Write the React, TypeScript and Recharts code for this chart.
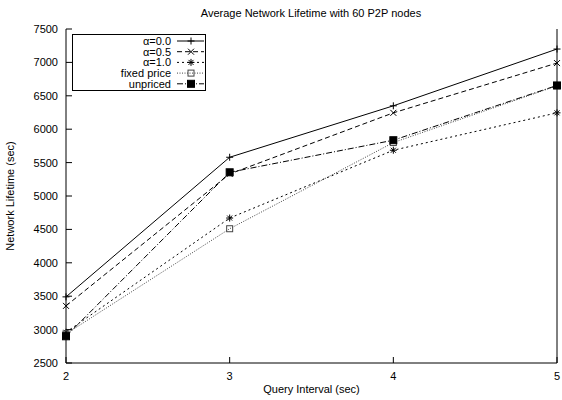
import React from 'react';
import { LineChart, Line, XAxis, YAxis } from 'recharts';

const intervals = [2, 3, 4, 5];
const alpha00 = [3490, 5580, 6350, 7200];
const alpha05 = [3355, 5330, 6245, 6990];
const alpha10 = [2960, 4670, 5685, 6245];
const fixedPrice = [2935, 4510, 5800, 6650];
const unpriced = [2900, 5355, 5835, 6655];
const yTicks = [2500, 3000, 3500, 4000, 4500, 5000, 5500, 6000, 6500, 7000, 7500];
const xTicks = [2, 3, 4, 5];

const title = 'Average Network Lifetime with 60 P2P nodes';
const xLabel = 'Query Interval (sec)';
const yLabel = 'Network Lifetime (sec)';

const seriesNames = ['\u03b1=0.0', '\u03b1=0.5', '\u03b1=1.0', 'fixed price', 'unpriced'];

const data = intervals.map((x, i) => ({
  x,
  a00: alpha00[i],
  a05: alpha05[i],
  a10: alpha10[i],
  fixed: fixedPrice[i],
  unpriced: unpriced[i],
}));

const FONT = '"Liberation Sans", Arial, Helvetica, sans-serif';
const FS = 11;

type MarkerKind = 'plus' | 'cross' | 'star' | 'osq' | 'fsq';

const Marker = ({ kind, cx, cy, color }: { kind: MarkerKind; cx: number; cy: number; color: string }) => {
  const s = 3.5;
  if (kind === 'plus')
    return (
      <g stroke={color} strokeWidth={1}>
        <line x1={cx - s} y1={cy} x2={cx + s} y2={cy} />
        <line x1={cx} y1={cy - s} x2={cx} y2={cy + s} />
      </g>
    );
  if (kind === 'cross')
    return (
      <g stroke={color} strokeWidth={1}>
        <line x1={cx - 3} y1={cy - 3} x2={cx + 3} y2={cy + 3} />
        <line x1={cx - 3} y1={cy + 3} x2={cx + 3} y2={cy - 3} />
      </g>
    );
  if (kind === 'star')
    return (
      <g stroke={color} strokeWidth={1}>
        <line x1={cx - s} y1={cy} x2={cx + s} y2={cy} />
        <line x1={cx} y1={cy - s} x2={cx} y2={cy + s} />
        <line x1={cx - 2.5} y1={cy - 2.5} x2={cx + 2.5} y2={cy + 2.5} />
        <line x1={cx - 2.5} y1={cy + 2.5} x2={cx + 2.5} y2={cy - 2.5} />
      </g>
    );
  if (kind === 'osq')
    return <rect x={cx - 3} y={cy - 3} width={6} height={6} fill="none" stroke={color} strokeWidth={1} />;
  return <rect x={cx - 3.5} y={cy - 3.5} width={7} height={7} fill="#000" stroke="#000" />;
};

const seriesDefs: { key: string; name: string; dash?: string; color: string; marker: MarkerKind }[] = [
  { key: 'a00', name: seriesNames[0], color: '#000', marker: 'plus' },
  { key: 'a05', name: seriesNames[1], dash: '5 3', color: '#000', marker: 'cross' },
  { key: 'a10', name: seriesNames[2], dash: '2 3', color: '#000', marker: 'star' },
  { key: 'fixed', name: seriesNames[3], dash: '1 1.5', color: '#444', marker: 'osq' },
  { key: 'unpriced', name: seriesNames[4], dash: '6 2 1 2', color: '#000', marker: 'fsq' },
];

const LeftTick = (props: any) => {
  const { x, y, payload } = props;
  return (
    <g>
      <line x1={x} y1={y} x2={x + 6} y2={y} stroke="#000" />
      <text x={x - 8} y={y} dy={4} textAnchor="end" fontSize={FS} fontFamily={FONT} fill="#000">
        {payload.value}
      </text>
    </g>
  );
};

const RightTick = (props: any) => {
  const { x, y } = props;
  return <line x1={x} y1={y} x2={x - 6} y2={y} stroke="#000" />;
};

const BottomTick = (props: any) => {
  const { x, y, payload } = props;
  return (
    <g>
      <line x1={x} y1={y} x2={x} y2={y - 6} stroke="#000" />
      <text x={x} y={y + 17} textAnchor="middle" fontSize={FS} fontFamily={FONT} fill="#000">
        {payload.value}
      </text>
    </g>
  );
};

const TopTick = (props: any) => {
  const { x, y } = props;
  return <line x1={x} y1={y} x2={x} y2={y + 6} stroke="#000" />;
};

const LegendBox = () => (
  <svg width={134} height={58} style={{ display: 'block' }}>
    <rect x={0.5} y={0.5} width={133} height={56} fill="#fff" stroke="#000" />
    {seriesDefs.map((s, i) => {
      const cy = 7 + i * 10.7;
      return (
        <g key={s.key}>
          <text x={99} y={cy} dy={4} textAnchor="end" fontSize={FS} fontFamily={FONT} fill="#000">
            {s.name}
          </text>
          <line x1={105} y1={cy} x2={132} y2={cy} stroke={s.color} strokeDasharray={s.dash} />
          <Marker kind={s.marker} cx={119} cy={cy} color={s.color} />
        </g>
      );
    })}
  </svg>
);

export default function App() {
  return (
    <div style={{ position: 'absolute', left: 0, top: 0, width: 562, height: 400, background: '#fff' }}>
      <LineChart width={562} height={400} data={data} margin={{ top: 29, right: 0, bottom: 0, left: 0 }}>
        <XAxis
          dataKey="x"
          type="number"
          domain={[2, 5]}
          ticks={xTicks}
          xAxisId={0}
          height={37}
          tickSize={0}
          tickMargin={0}
          tickLine={false}
          axisLine={{ stroke: '#000' }}
          tick={<BottomTick />}
          interval={0}
          label={{
            content: (p: any) => {
              const vb = p.viewBox || {};
              return (
                <text x={vb.x + vb.width / 2} y={393} textAnchor="middle" fontSize={FS} fontFamily={FONT} fill="#000">
                  {xLabel}
                </text>
              );
            },
          }}
        />
        <XAxis
          xAxisId="top"
          orientation="top"
          dataKey="x"
          type="number"
          domain={[2, 5]}
          ticks={xTicks}
          height={0}
          tickSize={0}
          tickMargin={0}
          tickLine={false}
          axisLine={{ stroke: '#000' }}
          tick={<TopTick />}
          interval={0}
        />
        <YAxis
          yAxisId={0}
          type="number"
          domain={[2500, 7500]}
          ticks={yTicks}
          width={66}
          tickSize={0}
          tickMargin={0}
          tickLine={false}
          axisLine={{ stroke: '#000' }}
          tick={<LeftTick />}
          interval={0}
          label={{
            content: () => (
              <text
                x={14}
                y={196}
                transform="rotate(-90, 14, 196)"
                textAnchor="middle"
                fontSize={FS}
                fontFamily={FONT}
                fill="#000"
              >
                {yLabel}
              </text>
            ),
          }}
        />
        <YAxis
          yAxisId="right"
          orientation="right"
          type="number"
          domain={[2500, 7500]}
          ticks={yTicks}
          width={5}
          tickSize={0}
          tickMargin={0}
          tickLine={false}
          axisLine={{ stroke: '#000' }}
          tick={<RightTick />}
          interval={0}
        />
        {seriesDefs.map((s) => (
          <Line
            key={s.key}
            dataKey={s.key}
            name={s.name}
            type="linear"
            xAxisId={0}
            yAxisId={0}
            stroke={s.color}
            strokeWidth={1}
            strokeDasharray={s.dash}
            isAnimationActive={false}
            dot={(p: any) => <Marker key={`${s.key}-${p.index}`} kind={s.marker} cx={p.cx} cy={p.cy} color={s.color} />}
            activeDot={false}
          />
        ))}
      </LineChart>
      <div
        style={{
          position: 'absolute',
          left: 0,
          top: 6,
          width: 622,
          textAlign: 'center',
          fontFamily: FONT,
          fontSize: FS,
          lineHeight: '14px',
          color: '#000',
        }}
      >
        {title}
      </div>
      <div style={{ position: 'absolute', left: 72, top: 34 }}>
        <LegendBox />
      </div>
    </div>
  );
}
